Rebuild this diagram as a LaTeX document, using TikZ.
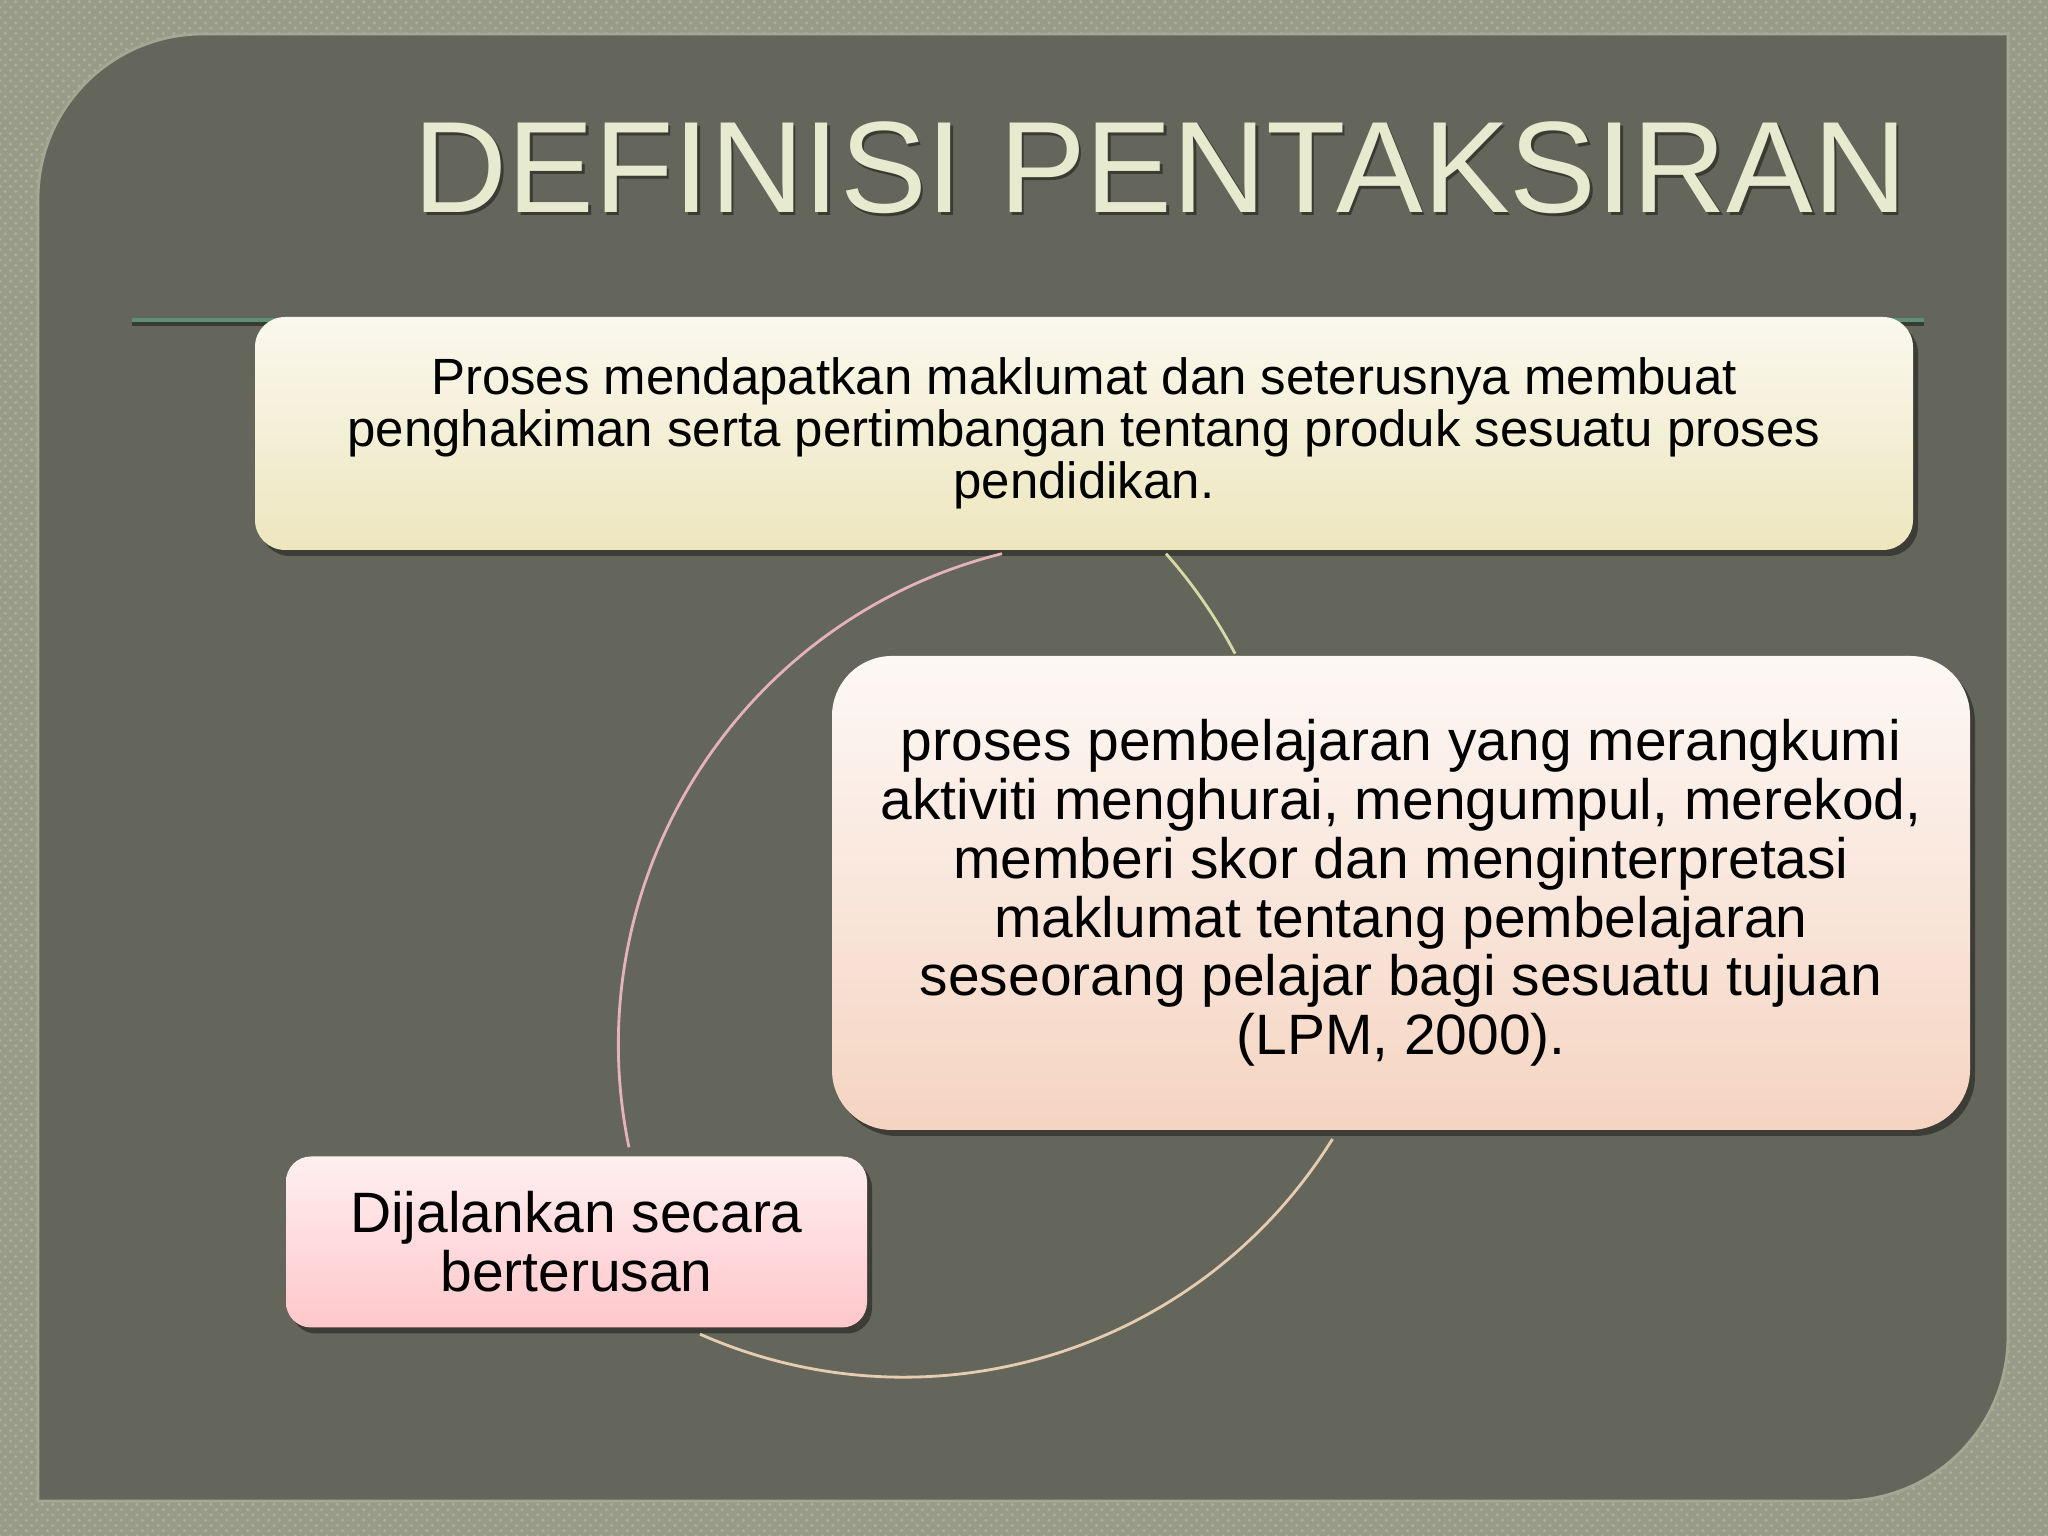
\documentclass[tikz,border=0pt]{standalone}
\usepackage{fontspec}
\setmainfont{Liberation Sans}
\usetikzlibrary{shadows,patterns}
\definecolor{frameback}{HTML}{989B88}
\definecolor{framedots}{HTML}{ABAE9B}
\definecolor{panelback}{HTML}{65665B}
\definecolor{paneledge}{HTML}{A4A893}
\definecolor{titlecream}{HTML}{E7EACF}
\definecolor{titleshade}{HTML}{3A3B33}
\definecolor{rulegreen}{HTML}{5F8F72}
\definecolor{creamtop}{HTML}{FAF8EE}
\definecolor{creambot}{HTML}{EDE6BE}
\definecolor{peachtop}{HTML}{FDF8F5}
\definecolor{peachbot}{HTML}{F5D4C1}
\definecolor{pinktop}{HTML}{FFEFEF}
\definecolor{pinkbot}{HTML}{FFC7CB}
\definecolor{arcpink}{HTML}{E3B3B7}
\definecolor{arcpeach}{HTML}{E6CDB2}
\definecolor{arccream}{HTML}{D7DAA6}
\newcommand{\cyclebox}[6]{%
 \node[box=#1, top color=#2top, bottom color=#2bot, #3] (#4) at (#5) {#6};%
}

\begin{document}
\begin{tikzpicture}[
  box/.style={rounded corners=#1, align=center, text=black, inner sep=0pt,
   drop shadow={shadow xshift=0.05cm, shadow yshift=-0.06cm, fill=black, opacity=0.4}},
  small/.style={font=\fontsize{14.5}{14.8}\selectfont},
  large/.style={font=\fontsize{16.2}{16.7}\selectfont},
  titletext/.style={font=\fontsize{37}{40}\selectfont, anchor=base, inner sep=0pt},
  link/.style={line width=0.8pt}]
   \fill[frameback] (0,0) rectangle (20.48,15.36);
   \fill[pattern=crosshatch dots, pattern color=framedots] (0,0) rectangle (20.48,15.36);
   \path[use as bounding box] (0,0) rectangle (20.48,15.36);
   \filldraw[fill=panelback, draw=paneledge, line width=0.8pt] (0.38,0.35) -- (0.38,13.37)
     arc[start angle=180, end angle=90, radius=1.65] -- (20.08,15.02) -- (20.08,2.0)
     arc[start angle=0, end angle=-90, radius=1.65] -- cycle;
   \draw[titleshade, line width=1pt] (1.32,12.12) -- (19.24,12.12);
   \draw[rulegreen, line width=1.2pt] (1.32,12.16) -- (19.24,12.16);
   \node[titletext, text=titleshade] (titleshadow) at (11.63,13.20) {DEFINISI PENTAKSIRAN};
   \node[titletext, text=titlecream] (title) at (11.605,13.23) {DEFINISI PENTAKSIRAN};
   \cyclebox{0.3cm}{cream}{small, minimum width=16.58cm, minimum height=2.33cm}{top}{10.84,11.025}
     {Proses mendapatkan maklumat dan seterusnya membuat\\penghakiman serta pertimbangan tentang produk sesuatu proses\\pendidikan.};
   \cyclebox{0.6cm}{peach}{large, minimum width=11.38cm, minimum height=4.74cm}{right}{14.01,6.43}
     {proses pembelajaran yang merangkumi\\aktiviti menghurai, mengumpul, merekod,\\memberi skor dan menginterpretasi\\maklumat tentang pembelajaran\\seseorang pelajar bagi sesuatu tujuan\\(LPM, 2000).};
   \cyclebox{0.25cm}{pink}{large, minimum width=5.81cm, minimum height=1.71cm}{left}{5.765,2.94}
     {Dijalankan secara\\berterusan};
   \draw[link, arccream] ([xshift=0.82cm, yshift=-0.03cm]top.south) arc[start angle=41.55, end angle=27.73, radius=5.05];
   \draw[link, arcpeach] ([xshift=1.235cm, yshift=-0.06cm]left.south) arc[start angle=246.2, end angle=328.1, radius=5.05];
   \draw[link, arcpink] ([xshift=-0.82cm, yshift=-0.03cm]top.south) arc[start angle=104, end angle=191.7, radius=5.06];
\end{tikzpicture}
\end{document}
